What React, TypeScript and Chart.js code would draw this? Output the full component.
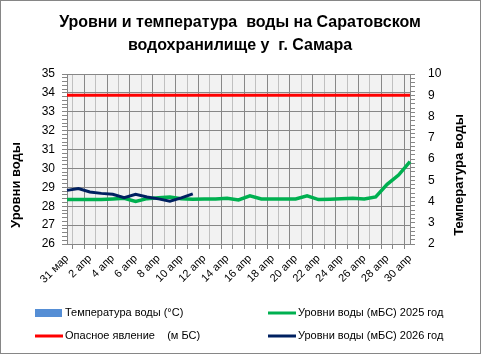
import React, { useEffect, useRef } from 'react';
import { Chart, registerables } from 'chart.js';

Chart.register(...registerables);

const FONT = '"Liberation Sans", Arial, sans-serif';

const titleLines = ['Уровни и температура  воды на Саратовском', 'водохранилище у  г. Самара'];
const leftAxisTitle = 'Уровни воды';
const rightAxisTitle = 'Температура воды';

const categories = [
  '31 мар', '1 апр', '2 апр', '3 апр', '4 апр', '5 апр', '6 апр', '7 апр', '8 апр', '9 апр',
  '10 апр', '11 апр', '12 апр', '13 апр', '14 апр', '15 апр', '16 апр', '17 апр', '18 апр', '19 апр',
  '20 апр', '21 апр', '22 апр', '23 апр', '24 апр', '25 апр', '26 апр', '27 апр', '28 апр', '29 апр', '30 апр',
];

const temperature: (number | null)[] = [];

const level2025 = [
  28.35, 28.35, 28.35, 28.35, 28.38, 28.42, 28.25, 28.40, 28.45, 28.49,
  28.40, 28.37, 28.38, 28.38, 28.42, 28.33, 28.55, 28.38, 28.38, 28.38,
  28.38, 28.55, 28.35, 28.37, 28.39, 28.42, 28.38, 28.49, 29.16, 29.65, 30.36,
];

const level2026 = [28.84, 28.94, 28.75, 28.68, 28.63, 28.45, 28.63, 28.49, 28.39, 28.27, 28.44, 28.65];

const dangerLevel = [
  33.87, 33.87, 33.87, 33.87, 33.87, 33.87, 33.87, 33.87, 33.87, 33.87,
  33.87, 33.87, 33.87, 33.87, 33.87, 33.87, 33.87, 33.87, 33.87, 33.87,
  33.87, 33.87, 33.87, 33.87, 33.87, 33.87, 33.87, 33.87, 33.87, 33.87, 33.87,
];

const levelMin = 26;
const levelMax = 35;
const tempMin = 2;
const tempMax = 10;

const isInt = (v: number) => Math.abs(v - Math.round(v)) < 1e-6;

const decorPlugin = {
  id: 'decor',
  beforeDraw(chart: any) {
    const { ctx, chartArea } = chart;
    ctx.save();
    ctx.fillStyle = '#ffffff';
    ctx.fillRect(0, 0, chart.width, chart.height);
    ctx.fillStyle = '#f2f2f2';
    ctx.fillRect(chartArea.left, chartArea.top, chartArea.right - chartArea.left, chartArea.bottom - chartArea.top);
    ctx.restore();
  },
  afterDraw(chart: any) {
    const { ctx } = chart;
    ctx.save();
    // title
    ctx.fillStyle = '#000';
    ctx.textAlign = 'center';
    ctx.textBaseline = 'middle';
    ctx.font = `bold 16px ${FONT}`;
    ctx.fillText(titleLines[0], 240, 23);
    ctx.fillText(titleLines[1], 240, 46);
    // axis titles
    ctx.font = `bold 13px ${FONT}`;
    ctx.save();
    ctx.translate(16, 185);
    ctx.rotate(-Math.PI / 2);
    ctx.fillText(leftAxisTitle, 0, 0);
    ctx.restore();
    ctx.save();
    ctx.translate(459, 175);
    ctx.rotate(-Math.PI / 2);
    ctx.fillText(rightAxisTitle, 0, 0);
    ctx.restore();
    // legend
    const ds = chart.data.datasets;
    const items = [
      { d: ds.find((d: any) => d.key === 'temp'), x: 35, y: 313 },
      { d: ds.find((d: any) => d.key === 'l2025'), x: 268, y: 313 },
      { d: ds.find((d: any) => d.key === 'danger'), x: 35, y: 336 },
      { d: ds.find((d: any) => d.key === 'l2026'), x: 268, y: 336 },
    ];
    ctx.font = `11px ${FONT}`;
    ctx.textAlign = 'left';
    items.forEach(({ d, x, y }) => {
      if (d.type === 'bar') {
        ctx.fillStyle = d.backgroundColor;
        ctx.fillRect(x, y - 4, 27, 8);
      } else {
        ctx.strokeStyle = d.borderColor;
        ctx.lineWidth = 3;
        ctx.beginPath();
        ctx.moveTo(x, y);
        ctx.lineTo(x + 28, y);
        ctx.stroke();
      }
      ctx.fillStyle = '#000';
      ctx.fillText(d.label, x + 30, y);
    });
    // frame
    ctx.strokeStyle = '#868686';
    ctx.lineWidth = 1;
    ctx.strokeRect(0.5, 0.5, chart.width - 1, chart.height - 1);
    ctx.restore();
  },
};

export default function App() {
  const ref = useRef<HTMLCanvasElement | null>(null);

  useEffect(() => {
    document.body.style.margin = '0';
    const canvas = ref.current;
    if (!canvas) return;
    const chart = new Chart(canvas, {
      type: 'line',
      data: {
        labels: categories,
        datasets: [
          {
            key: 'l2026',
            type: 'line',
            label: 'Уровни воды (мБС) 2026 год',
            data: level2026,
            borderColor: '#002060',
            borderWidth: 3,
            pointRadius: 0,
            tension: 0,
            yAxisID: 'y',
            order: 0,
          } as any,
          {
            key: 'l2025',
            type: 'line',
            label: 'Уровни воды (мБС) 2025 год',
            data: level2025,
            borderColor: '#00B050',
            borderWidth: 3.5,
            pointRadius: 0,
            tension: 0,
            yAxisID: 'y',
            order: 1,
          } as any,
          {
            key: 'danger',
            type: 'line',
            label: 'Опасное явление    (м БС)',
            data: dangerLevel,
            borderColor: '#FF0000',
            borderWidth: 3,
            pointRadius: 0,
            tension: 0,
            yAxisID: 'y',
            order: 2,
          } as any,
          {
            key: 'temp',
            type: 'bar',
            label: 'Температура воды (°С)',
            data: temperature,
            backgroundColor: '#558ED5',
            yAxisID: 'y1',
            order: 3,
          } as any,
        ],
      },
      options: {
        responsive: false,
        animation: false,
        devicePixelRatio: 1,
        layout: { padding: { top: 74, bottom: 60, left: 0, right: 0 } },
        plugins: {
          legend: { display: false },
          title: { display: false },
          tooltip: { enabled: false },
        },
        scales: {
          x: {
            offset: false,
            afterFit: (s: any) => { s.height = 50; },
            border: { color: '#868686' },
            grid: {
              color: (c: any) => (c.index % 2 === 0 ? '#878787' : '#c0c0c0'),
              tickColor: '#868686',
              tickLength: 5,
            },
            ticks: {
              autoSkip: false,
              maxRotation: 45,
              minRotation: 45,
              padding: 3,
              color: '#000',
              font: { family: FONT, size: 11 },
              callback: (_v: any, i: number) => (i % 2 === 0 ? categories[i] : ''),
            },
          },
          y: {
            position: 'left',
            min: levelMin,
            max: levelMax,
            afterFit: (s: any) => { s.width = 67; },
            border: { color: '#868686' },
            grid: {
              color: (c: any) => (c.tick && isInt(c.tick.value) ? '#878787' : 'rgba(0,0,0,0)'),
              tickColor: '#868686',
              tickLength: 5,
            },
            ticks: {
              stepSize: 0.2,
              autoSkip: false,
              padding: 7,
              color: '#000',
              font: { family: FONT, size: 12 },
              callback: (v: any) => (isInt(Number(v)) ? String(Math.round(Number(v))) : ''),
            },
          },
          y1: {
            position: 'right',
            min: tempMin,
            max: tempMax,
            afterFit: (s: any) => { s.width = 71; },
            border: { color: '#868686' },
            grid: {
              drawOnChartArea: false,
              color: '#868686',
              tickColor: '#868686',
              tickLength: 5,
            },
            ticks: {
              stepSize: 0.2,
              autoSkip: false,
              padding: 13,
              color: '#000',
              font: { family: FONT, size: 12 },
              callback: (v: any) => (isInt(Number(v)) ? String(Math.round(Number(v))) : ''),
            },
          },
        },
      } as any,
      plugins: [decorPlugin],
    });
    return () => chart.destroy();
  }, []);

  return (
    <div style={{ width: 481, height: 354, position: 'relative' }}>
      <canvas ref={ref} width={481} height={354} style={{ display: 'block' }} />
    </div>
  );
}
